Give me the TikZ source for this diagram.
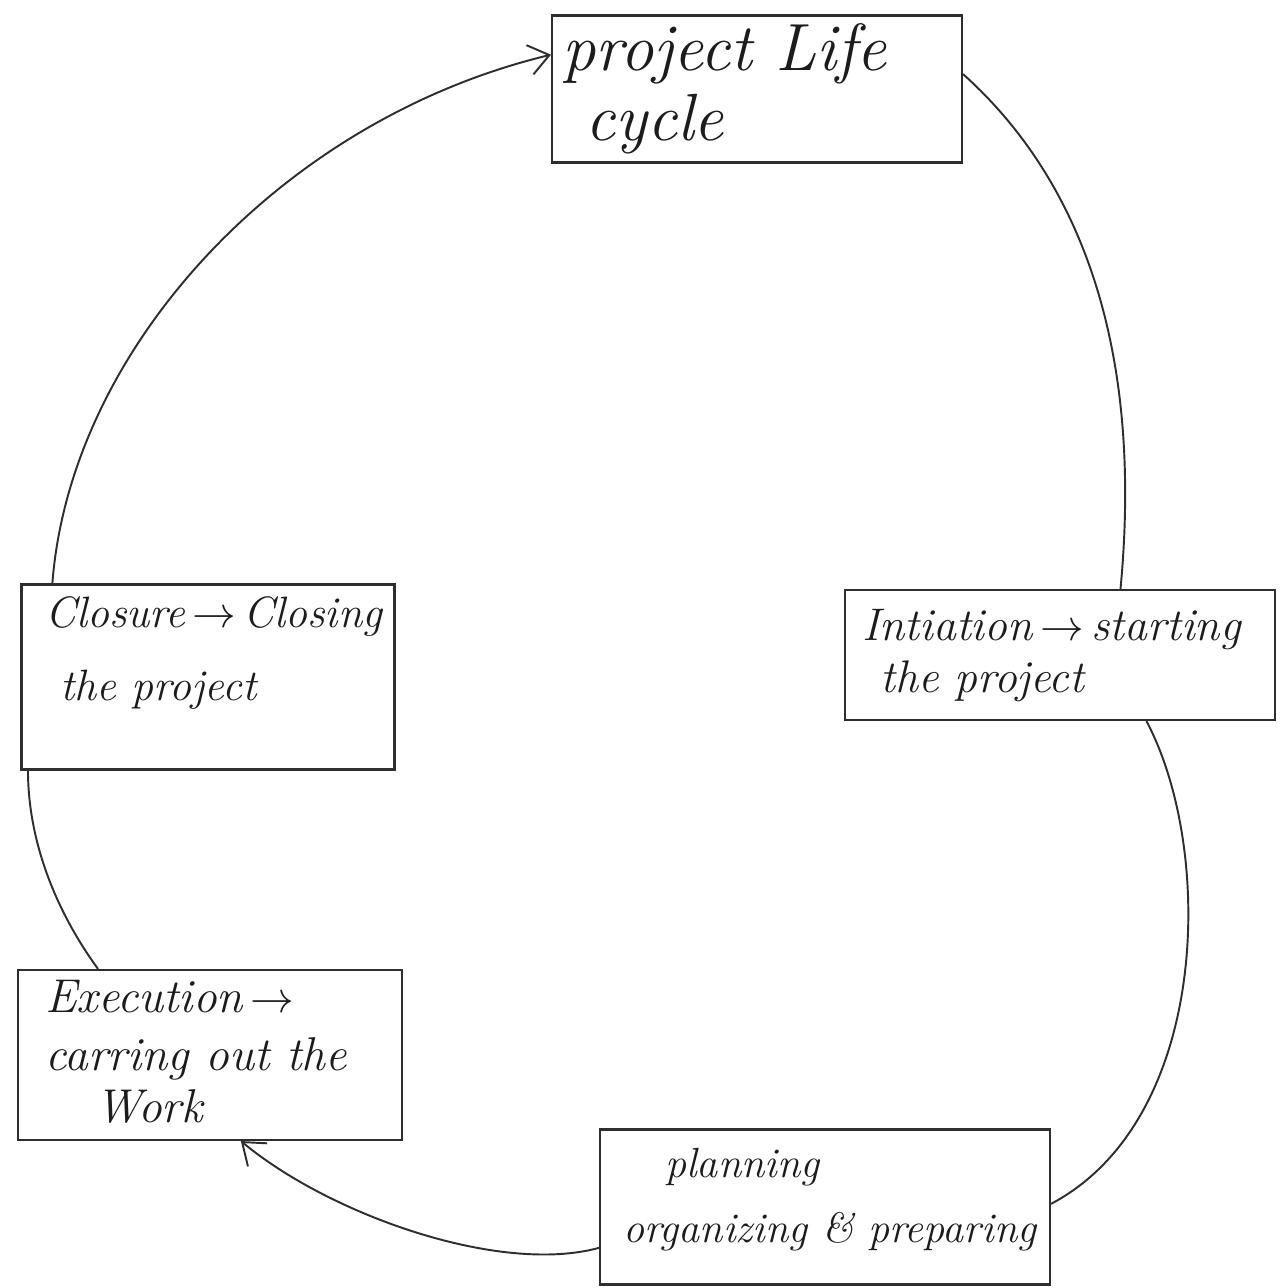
\documentclass[tikz,border=0pt]{standalone}
\usetikzlibrary{calc,arrows.meta}
\definecolor{ink}{HTML}{2E2E2E}
\definecolor{txt}{HTML}{1C1C1C}
\begin{document}
\begin{tikzpicture}[x=0.02cm,y=-0.02cm,
  box/.style={draw=ink,line width=1.2pt,inner sep=0pt},
  lbl/.style={anchor=base west,inner sep=0pt,text=txt,font=\fontsize{#1}{#1}\selectfont\itshape},
  conn/.style={draw=ink,line width=1.1pt},
  arr/.style={conn,-{Straight Barb[length=4mm,width=6mm,line width=1.1pt]}}]
\fill[white] (0,0) rectangle (1282,1288);
\useasboundingbox (0,0) rectangle (1282,1288);
% boxes
\node[box,minimum width=8.2cm,minimum height=2.94cm] (plc) at (757,89) {};
\node[box,minimum width=8.6cm,minimum height=2.6cm] (ini) at (1060,655) {};
\node[box,minimum width=7.46cm,minimum height=3.7cm] (clo) at (208,677) {};
\node[box,minimum width=7.68cm,minimum height=3.4cm] (exe) at (210,1055) {};
\node[box,minimum width=9.0cm,minimum height=3.1cm] (pla) at (825,1207) {};
% texts
\node[lbl=38] (plcA) at (562,70) {project Life};
\node[lbl=38] (plcB) at (585,140) {cycle};
\node[lbl=26] (iniA) at (862,640) {Intiation\,$\rightarrow$\,starting};
\node[lbl=26] (iniB) at (880,692) {the project};
\node[lbl=25] (cloA) at (45,627) {Closure\,$\rightarrow$\,Closing};
\node[lbl=25] (cloB) at (60,700) {the project};
\node[lbl=27] (exeA) at (45,1012) {Execution\,$\rightarrow$};
\node[lbl=27] (exeB) at (45,1070) {carring out the};
\node[lbl=27] (exeC) at (95,1122) {Work};
\node[lbl=24] (plaA) at (665,1177) {planning};
\node[lbl=24] (plaB) at (623,1242) {organizing \& preparing};
% connectors
\draw[conn] ($(plc.north east)!0.4!(plc.south east)$) .. controls (1070,170) and (1145,330) .. ($(ini.north west)!0.64!(ini.north east)$);
\draw[conn] ($(ini.south west)!0.7!(ini.south east)$) .. controls (1215,850) and (1210,1120) .. ($(pla.north east)!0.48!(pla.south east)$);
\draw[arr] ($(pla.north west)!0.76!(pla.south west)$) .. controls (500,1275) and (330,1215) .. ($(exe.south west)!0.58!(exe.south east)$);
\draw[conn] ($(exe.north west)!0.21!(exe.north east)$) .. controls (55,910) and (28,840) .. ($(clo.south west)!0.02!(clo.south east)$);
\draw[arr] ($(clo.north west)!0.085!(clo.north east)$) .. controls (70,350) and (280,120) .. ($(plc.north west)!0.27!(plc.south west)$);
\end{tikzpicture}
\end{document}
